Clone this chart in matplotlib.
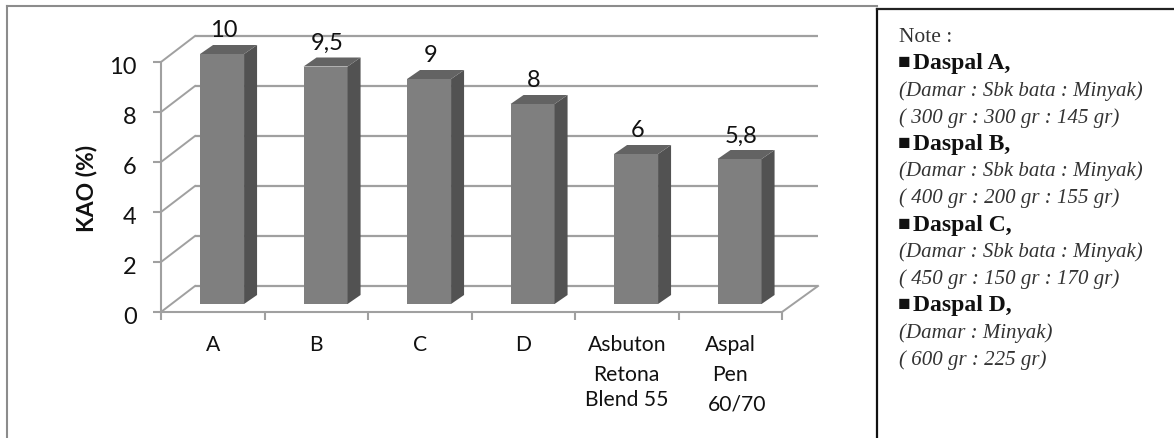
import matplotlib.pyplot as plt
from matplotlib.lines import Line2D
from matplotlib.patches import Polygon
from matplotlib.transforms import ScaledTranslation

# KAO values per binder
values = [10, 9.5, 9, 8, 6, 5.8]
y_ticks = [0, 2, 4, 6, 8, 10]
category_lines = [['A'], ['B'], ['C'], ['D'],
                  ['Asbuton', 'Retona', 'Blend 55'],
                  ['Aspal', 'Pen', '60/70']]

note_title = 'Note :'
note_items = [
    ('Daspal A,', '(Damar : Sbk bata : Minyak)', '( 300 gr : 300 gr : 145 gr)'),
    ('Daspal B,', '(Damar : Sbk bata : Minyak)', '( 400 gr : 200 gr : 155 gr)'),
    ('Daspal C,', '(Damar : Sbk bata : Minyak)', '( 450 gr : 150 gr : 170 gr)'),
    ('Daspal D,', '(Damar : Minyak)', '( 600 gr : 225 gr)'),
]

W, H = 1174, 439
GRID = '#a0a0a0'
FRONT, SIDE, TOP = '#7f7f7f', '#525252', '#636363'
SANS = 'Lato'
SERIF = ['Liberation Serif', 'DejaVu Sans']

fig = plt.figure(figsize=(W / 100, H / 100), dpi=100)
ax = fig.add_axes([161 / W, 1 - 313 / H, (782 - 161) / W, 250 / H])
ax.set_xlim(0, 6)
ax.set_ylim(0, 10)
ax.patch.set_visible(False)

# one category is 103.5 px wide, one y unit is 25 px
wall_dx, wall_dy = 34 / 103.5, 26 / 25
bar_dx, bar_dy = 13 / 103.5, 9 / 25
bar_w = 44 / 103.5
bar_shift = 0.09
bar_base = 8 / 25

# back wall, left wall and floor
for t in y_ticks:
    ax.plot([wall_dx, 6 + wall_dx * 1.06], [t + wall_dy] * 2, color=GRID, lw=1.6,
            clip_on=False, zorder=1, solid_capstyle='butt')
    ax.plot([0, wall_dx], [t, t + wall_dy], color=GRID, lw=1.4, clip_on=False, zorder=1)
ax.plot([6, 6 + wall_dx * 1.06], [0, wall_dy], color=GRID, lw=1.4, clip_on=False, zorder=1)

# 3D look bars: front face plus side and top faces
for i, v in enumerate(values):
    left = i + 0.5 + bar_shift - bar_w / 2
    right = left + bar_w
    top = bar_base + v
    ax.bar(left, v, width=bar_w, bottom=bar_base, align='edge', color=FRONT, zorder=3,
           clip_on=False)
    ax.add_patch(Polygon([(right, bar_base), (right + bar_dx, bar_base + bar_dy),
                          (right + bar_dx, top + bar_dy), (right, top)],
                         color=SIDE, lw=0, zorder=3, clip_on=False))
    ax.add_patch(Polygon([(left, top), (left + bar_dx, top + bar_dy),
                          (right + bar_dx, top + bar_dy), (right, top)],
                         color=TOP, lw=0, zorder=3, clip_on=False))
    label = f'{v:g}'.replace('.', ',')
    ax.text(i + 0.5 + bar_shift + 0.015, top + 0.96, label, ha='center', va='center',
            family=SANS, fontsize=17, color='#111111', zorder=4, clip_on=False)

# axis lines and ticks
for side in ['top', 'right']:
    ax.spines[side].set_visible(False)
for side in ['left', 'bottom']:
    ax.spines[side].set_color(GRID)
    ax.spines[side].set_linewidth(1.5)
ax.set_xticks(range(7))
ax.set_xticklabels([])
ax.set_yticks(y_ticks)
ax.set_yticklabels([str(t) for t in y_ticks], family=SANS, fontsize=17, color='#111111')
ax.tick_params(axis='both', color=GRID, width=1.5, length=5.5)
ax.tick_params(axis='y', pad=12)
# y numbers sit a little below their ticks
nudge = ScaledTranslation(0, -3 / 100, fig.dpi_scale_trans)
for tick_label in ax.get_yticklabels():
    tick_label.set_transform(tick_label.get_transform() + nudge)
ax.set_ylabel('KAO (%)', family=SANS, fontweight='bold', fontsize=16.5, color='#111111')
ax.yaxis.set_label_coords((97 - 161) / (782 - 161), 1 - (188.5 - 63) / 250)

# category labels, written line by line
row_px = {0: 345, 1: 375, 2: 400}
for i, lines in enumerate(category_lines):
    for j, line in enumerate(lines):
        px = row_px[j]
        dx = 0
        if line == '60/70':
            px, dx = 405, 7 / 103.5
        ax.text(i + 0.5 + dx, (313 - px) / 25, line, ha='center', va='center',
                family=SANS, fontsize=15.2, color='#111111', clip_on=False)

# outer frames
fig.add_artist(Line2D([7 / W, 7 / W], [0, 1 - 7 / H], color='#8c8c8c', lw=1.5))
fig.add_artist(Line2D([7 / W, 877 / W], [1 - 7 / H, 1 - 7 / H], color='#8c8c8c', lw=1.5))
fig.add_artist(Line2D([877 / W, 877 / W], [0, 1 - 10 / H], color='#111111', lw=1.6))
fig.add_artist(Line2D([877 / W, 1], [1 - 10 / H, 1 - 10 / H], color='#222222', lw=1.6))

# note panel
note_x = 899 / W
y_px = 37
step = 26.9
fig.text(note_x, 1 - y_px / H, note_title, family=SERIF, fontsize=15.5,
         color='#333333', va='center')
for name, parts, grams in note_items:
    y_px += step
    fig.text(note_x - 1 / W, 1 - y_px / H, '■', family=SERIF, fontsize=15, color='#111111', va='center')
    fig.text(note_x + 14 / W, 1 - y_px / H, name, family=SERIF, fontweight='bold', fontsize=17,
             color='#111111', va='center')
    for line in (parts, grams):
        y_px += step
        fig.text(note_x, 1 - y_px / H, line, family=SERIF, style='italic', fontsize=15,
                 color='#333333', va='center')

fig.savefig('out.png', dpi=100)
